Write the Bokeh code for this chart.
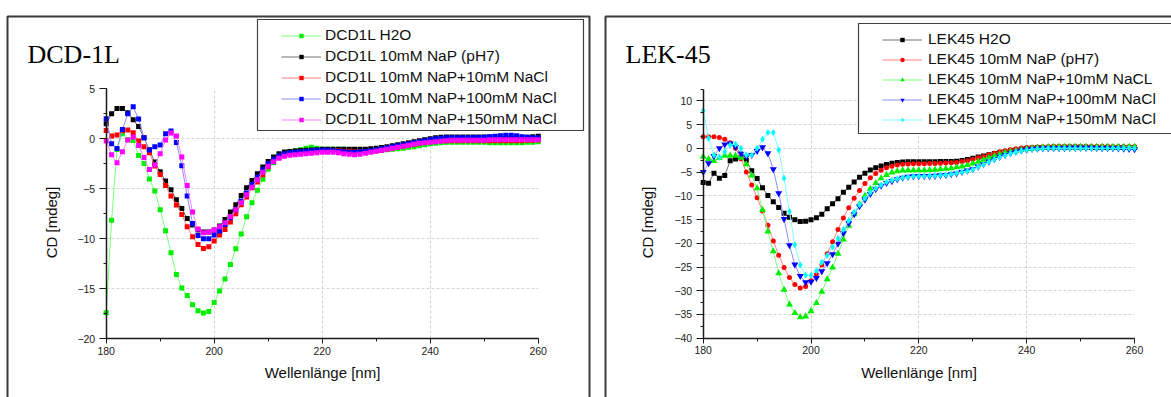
import math
from bokeh.plotting import figure
from bokeh.layouts import row
from bokeh.models import (Legend, LegendItem, BoxAnnotation, Label,
                          SingleIntervalTicker, FixedTicker, Range1d)
from bokeh.embed import file_html
from bokeh.resources import INLINE

wavelength = list(range(180, 261))
x_ticks = [180, 200, 220, 240, 260]

# ---------------- DCD-1L ----------------
dcd_labels = ["DCD1L H2O", "DCD1L 10mM NaP (pH7)", "DCD1L 10mM NaP+10mM NaCl",
              "DCD1L 10mM NaP+100mM NaCl", "DCD1L 10mM NaP+150mM NaCl"]
dcd_y_axis = [-20, 5]
dcd_h2o = [-17.4, -8.15, -1.07, 0.5, -0.1, -0.17, -1.67, -2.47, -4.03, -5.23,
           -7.1, -9.2, -11.4, -13.57, -14.93, -15.67, -16.6, -17.2, -17.43, -17.27,
           -16.37, -15.23, -14.03, -12.57, -11.0, -9.53, -7.8, -6.4, -5.15, -4.05,
           -3.05, -2.4, -1.85, -1.5, -1.3, -1.2, -1.1, -0.95, -0.85, -0.95,
           -1.05, -1.05, -1.05, -1.05, -1.05, -1.1, -1.1, -1.15, -1.15, -1.15,
           -1.15, -1.15, -1.1, -1.05, -1.0, -0.95, -0.85, -0.8, -0.7, -0.6,
           -0.5, -0.45, -0.4, -0.35, -0.35, -0.35, -0.35, -0.35, -0.35, -0.35,
           -0.35, -0.4, -0.4, -0.4, -0.4, -0.4, -0.4, -0.4, -0.35, -0.35,
           -0.3]
dcd_nap = [1.5, 2.5, 3.03, 3.03, 2.6, 1.9, 1.23, 0.1, -1.1, -2.33,
           -3.3, -4.23, -5.1, -6.1, -6.97, -7.97, -8.63, -9.13, -9.33, -9.33,
           -9.13, -8.73, -8.07, -7.33, -6.6, -5.67, -4.9, -4.17, -3.5, -2.83,
           -2.27, -1.83, -1.5, -1.33, -1.27, -1.22, -1.18, -1.15, -1.12, -1.1,
           -1.05, -1.05, -1.05, -1.05, -1.05, -1.05, -1.05, -1.05, -1.05, -1.0,
           -0.95, -0.88, -0.8, -0.7, -0.6, -0.5, -0.4, -0.3, -0.2, -0.1,
           0.0, 0.1, 0.15, 0.17, 0.17, 0.17, 0.17, 0.17, 0.17, 0.17,
           0.17, 0.17, 0.17, 0.17, 0.17, 0.17, 0.17, 0.15, 0.15, 0.2,
           0.25]
dcd_nacl10 = [0.83, 0.27, 0.37, 0.8, 0.87, 0.6, -0.23, -0.8, -1.4, -2.73,
              -3.57, -4.67, -5.73, -6.63, -7.57, -8.8, -9.8, -10.57, -10.97, -10.8,
              -10.23, -9.63, -9.07, -8.33, -7.5, -6.6, -5.83, -4.9, -4.33, -3.6,
              -2.8, -2.2, -1.85, -1.6, -1.5, -1.45, -1.4, -1.35, -1.3, -1.25,
              -1.2, -1.2, -1.2, -1.2, -1.25, -1.25, -1.3, -1.3, -1.3, -1.25,
              -1.2, -1.15, -1.05, -0.95, -0.85, -0.75, -0.65, -0.55, -0.45, -0.35,
              -0.3, -0.25, -0.2, -0.2, -0.2, -0.2, -0.2, -0.2, -0.2, -0.2,
              -0.2, -0.2, -0.2, -0.2, -0.2, -0.2, -0.2, -0.2, -0.15, -0.15,
              -0.1]
dcd_nacl100 = [2.0, -0.5, -0.97, 0.93, 2.5, 3.2, 1.97, 0.1, -1.13, -0.8,
               -0.63, 0.5, 0.77, -0.37, -2.7, -5.73, -8.47, -9.67, -10.0, -10.0,
               -9.63, -9.23, -8.57, -7.9, -7.1, -6.23, -5.43, -4.57, -3.83, -3.1,
               -2.5, -2.05, -1.7, -1.5, -1.4, -1.35, -1.3, -1.25, -1.2, -1.15,
               -1.15, -1.15, -1.2, -1.25, -1.3, -1.35, -1.35, -1.3, -1.25, -1.2,
               -1.1, -1.0, -0.9, -0.8, -0.7, -0.6, -0.5, -0.4, -0.3, -0.2,
               -0.1, 0.0, 0.05, 0.1, 0.1, 0.1, 0.1, 0.1, 0.12, 0.12,
               0.15, 0.2, 0.25, 0.3, 0.35, 0.35, 0.3, 0.2, 0.15, 0.1,
               0.1]
dcd_nacl150 = [-0.23, -1.6, -2.4, -1.3, -0.13, 0.17, -0.67, -1.87, -3.07, -2.63,
               -1.5, -0.13, 0.57, 0.27, -1.83, -4.67, -7.33, -9.03, -9.4, -9.33,
               -9.13, -8.8, -8.4, -7.8, -7.1, -6.4, -5.6, -4.85, -4.1, -3.35,
               -2.75, -2.3, -1.95, -1.75, -1.65, -1.6, -1.55, -1.5, -1.45, -1.4,
               -1.35, -1.35, -1.35, -1.4, -1.5, -1.55, -1.6, -1.55, -1.45, -1.35,
               -1.25, -1.15, -1.05, -0.95, -0.85, -0.75, -0.65, -0.55, -0.45, -0.4,
               -0.35, -0.3, -0.25, -0.2, -0.15, -0.15, -0.15, -0.15, -0.15, -0.15,
               -0.15, -0.1, -0.1, -0.1, -0.1, -0.1, -0.1, -0.1, -0.1, -0.1,
               -0.1]

# ---------------- LEK-45 ----------------
lek_labels = ["LEK45 H2O", "LEK45 10mM NaP (pH7)", "LEK45 10mM NaP+10mM NaCL",
              "LEK45 10mM NaP+100mM NaCl", "LEK45 10mM NaP+150mM NaCl"]
lek_y_axis = [-40, 12.5]
lek_h2o = [-7.2, -7.35, -5.25, -6.3, -5.74, -2.6, -2.24, -1.9, -2.52, -4.7,
           -6.37, -8.3, -9.94, -11.27, -12.46, -13.66, -14.5, -15.06, -15.4, -15.34,
           -15.06, -14.64, -13.87, -12.75, -11.7, -10.6, -9.24, -8.2, -7.1, -6.1,
           -5.25, -4.55, -4.1, -3.7, -3.4, -3.15, -3.0, -2.9, -2.85, -2.85,
           -2.85, -2.85, -2.85, -2.85, -2.8, -2.8, -2.75, -2.7, -2.55, -2.35,
           -2.1, -1.85, -1.6, -1.35, -1.1, -0.85, -0.65, -0.45, -0.3, -0.15,
           -0.05, 0.05, 0.1, 0.15, 0.2, 0.25, 0.25, 0.25, 0.25, 0.25,
           0.25, 0.25, 0.2, 0.2, 0.2, 0.2, 0.2, 0.2, 0.2, 0.2,
           0.2]
lek_nap = [2.45, 2.45, 2.45, 2.3, 1.9, 1.2, 0.0, -2.2, -5.0, -7.7,
           -10.4, -13.2, -16.2, -19.5, -22.5, -25.1, -27.2, -28.7, -29.4, -29.1,
           -27.9, -26.6, -24.6, -22.2, -19.7, -17.1, -14.7, -12.5, -10.5, -8.9,
           -7.4, -6.2, -5.3, -4.6, -4.1, -3.75, -3.5, -3.35, -3.3, -3.25,
           -3.25, -3.25, -3.2, -3.2, -3.15, -3.1, -3.05, -3.0, -2.8, -2.6,
           -2.3, -2.0, -1.7, -1.35, -1.05, -0.75, -0.5, -0.3, -0.1, 0.05,
           0.15, 0.25, 0.3, 0.35, 0.4, 0.45, 0.45, 0.45, 0.45, 0.45,
           0.45, 0.45, 0.45, 0.45, 0.45, 0.45, 0.4, 0.4, 0.4, 0.4,
           0.4]
lek_nacl10 = [-1.75, -2.24, -2.66, -1.96, -1.54, -1.54, -1.54, -1.96, -3.36, -5.74,
              -8.4, -12.95, -17.5, -21.7, -26.3, -29.8, -32.9, -34.7, -35.6, -35.4,
              -34.3, -32.6, -30.2, -27.6, -25.1, -22.2, -19.2, -16.3, -13.9, -11.8,
              -10.0, -8.5, -7.3, -6.3, -5.6, -5.1, -4.8, -4.65, -4.6, -4.6,
              -4.6, -4.6, -4.55, -4.5, -4.4, -4.3, -4.2, -4.0, -3.8, -3.5,
              -3.2, -2.8, -2.4, -2.0, -1.6, -1.25, -0.95, -0.7, -0.5, -0.3,
              -0.15, 0.0, 0.1, 0.2, 0.25, 0.3, 0.3, 0.3, 0.35, 0.35,
              0.35, 0.35, 0.35, 0.3, 0.3, 0.3, 0.3, 0.3, 0.3, 0.3,
              0.3]
lek_nacl100 = [-4.97, -3.15, -1.6, 0.0, 0.8, 1.0, 0.3, -1.1, -1.7, -1.4,
               -0.56, 0.2, -1.05, -4.4, -9.45, -14.9, -20.4, -24.5, -26.9, -28.2,
               -28.1, -27.3, -25.9, -24.2, -22.3, -20.1, -17.9, -15.8, -13.9, -12.2,
               -10.8, -9.6, -8.6, -7.9, -7.3, -6.9, -6.5, -6.2, -6.0, -5.9,
               -5.85, -5.85, -5.85, -5.8, -5.7, -5.6, -5.45, -5.3, -5.0, -4.7,
               -4.4, -3.85, -3.36, -2.8, -2.3, -1.8, -1.4, -1.05, -0.7, -0.45,
               -0.28, -0.15, -0.1, -0.05, 0.0, 0.0, 0.05, 0.05, 0.1, 0.1,
               0.1, 0.1, 0.1, 0.05, 0.05, 0.0, 0.0, -0.05, -0.1, -0.15,
               -0.2]
lek_nacl150 = [7.9, 2.1, -1.4, -1.9, -0.7, 0.7, 0.84, 0.0, -1.4, -1.4,
               0.0, 1.9, 3.36, 3.36, -0.35, -6.3, -13.3, -20.3, -24.6, -26.75,
               -26.75, -25.8, -24.0, -22.6, -20.8, -19.0, -17.1, -15.2, -13.4, -11.9,
               -10.5, -9.3, -8.4, -7.7, -7.1, -6.7, -6.4, -6.15, -6.0, -5.9,
               -5.85, -5.85, -5.8, -5.75, -5.65, -5.55, -5.4, -5.25, -5.0, -4.75,
               -4.45, -3.9, -3.4, -2.85, -2.35, -1.85, -1.45, -1.1, -0.75, -0.5,
               -0.3, -0.2, -0.1, -0.05, 0.0, 0.0, 0.0, 0.0, 0.0, 0.0,
               0.0, 0.0, 0.0, 0.0, 0.0, 0.0, 0.0, 0.0, 0.0, 0.0,
               0.0]

SANS = "Liberation Sans"
SERIF = "Liberation Serif"
H = 397


def make_panel(width, ax_left, ax_right, ax_top, ax_bottom, y_axis, y_grid, title,
               series, outer, legbox, leg_left, leg_top, leg_spacing, leg_standoff,
               ylab_x):
    """ax_* are the pixel edges of the data area inside this canvas."""
    x0, x1 = x_ticks[0], x_ticks[-1]
    y0, y1 = y_axis
    kx = (x1 - x0) / (ax_right - ax_left)
    ky = (y1 - y0) / (ax_bottom - ax_top)
    xr = Range1d(x0 - ax_left * kx, x1 + (width - ax_right) * kx)
    yr = Range1d(y0 - (H - ax_bottom) * ky, y1 + ax_top * ky)

    p = figure(width=width, height=H, x_range=xr, y_range=yr, title=None,
               output_backend="svg", toolbar_location=None, min_border=0,
               min_border_left=0, min_border_right=0, min_border_top=0, min_border_bottom=0)
    p.outline_line_color = None
    p.background_fill_color = "white"
    p.border_fill_color = "white"

    p.xaxis.ticker = SingleIntervalTicker(interval=20, num_minor_ticks=2)
    p.yaxis.ticker = SingleIntervalTicker(interval=5, num_minor_ticks=2)
    p.xaxis.bounds = (x0, x1)
    p.yaxis.bounds = (y0, y1)
    p.xaxis.fixed_location = y0
    p.yaxis.fixed_location = x0
    p.xgrid.ticker = FixedTicker(ticks=x_ticks[1:-1])
    p.ygrid.ticker = FixedTicker(ticks=y_grid)
    p.xgrid.cross_bounds = (y0, y1)
    p.ygrid.cross_bounds = (x0, x1)
    for g in (p.xgrid, p.ygrid):
        g.grid_line_color = "#d4d4d4"
        g.grid_line_dash = "3 2"
        g.grid_line_width = 1

    for ax in (p.xaxis, p.yaxis):
        ax.axis_line_color = "#1a1a1a"
        ax.axis_line_width = 1.5
        ax.major_tick_line_color = "#1a1a1a"
        ax.minor_tick_line_color = "#1a1a1a"
        ax.major_tick_in = 0
        ax.minor_tick_in = 0
        ax.major_label_text_font = SANS
        ax.major_label_text_font_size = "10.5px"
        ax.major_label_text_color = "#222222"
        ax.axis_label_text_font = SANS
        ax.axis_label_text_font_size = "15px"
        ax.axis_label_text_font_style = "normal"
        ax.axis_label_text_color = "#111111"
    p.xaxis.major_tick_out = 5
    p.xaxis.minor_tick_out = 3
    p.xaxis.major_label_standoff = 3
    p.xaxis.axis_label = "Wellenlänge [nm]"
    p.xaxis.axis_label_standoff = 6
    p.yaxis.major_tick_out = 7
    p.yaxis.minor_tick_out = 3
    p.yaxis.major_label_standoff = 4

    items = []
    for label, vals, marker, size, mcol, lcol in series:
        lr = p.line(wavelength, vals, line_color=lcol, line_width=1)
        sr = p.scatter(wavelength, vals, marker=marker, size=size,
                       fill_color=mcol, line_color=None)
        items.append(LegendItem(label=label, renderers=[lr, sr]))

    frame_box = BoxAnnotation(left=outer[0], right=outer[1], top=outer[2], bottom=outer[3],
                              left_units="canvas", right_units="canvas",
                              top_units="canvas", bottom_units="canvas",
                              fill_alpha=0, line_color="#3a3a3a", line_alpha=1, line_width=2)
    p.add_layout(frame_box)
    lbox = BoxAnnotation(left=legbox[0], right=legbox[1], top=legbox[2], bottom=legbox[3],
                         left_units="canvas", right_units="canvas",
                         top_units="canvas", bottom_units="canvas",
                         fill_color="white", fill_alpha=1, line_color="#404040",
                         line_alpha=1, line_width=1.2)
    p.add_layout(lbox)

    n = len(items)
    row_h = 18
    leg_h = n * row_h + (n - 1) * leg_spacing
    leg = Legend(items=items, location=(leg_left, H - leg_top - leg_h), padding=0, margin=0,
                 spacing=leg_spacing, glyph_width=40, glyph_height=11, label_height=row_h,
                 label_standoff=leg_standoff, border_line_alpha=0, background_fill_alpha=0,
                 label_text_font=SANS, label_text_font_size="15.5px", label_text_color="#111111")
    p.add_layout(leg)

    p.add_layout(Label(x=outer[0] + 20, y=54, x_units="canvas", y_units="canvas", text=title,
                       text_font=SERIF, text_font_size="26px", text_color="black",
                       text_baseline="alphabetic"))
    p.add_layout(Label(x=ylab_x, y=222, x_units="canvas", y_units="canvas", text="CD [mdeg]",
                       angle=math.pi / 2, text_font=SANS, text_font_size="15px",
                       text_color="#111111", text_align="center", text_baseline="middle"))
    return p


dcd_series = [
    (dcd_labels[0], dcd_h2o, "square", 5, "#00ee00", "#7dff7d"),
    (dcd_labels[1], dcd_nap, "square", 5, "#000000", "#707070"),
    (dcd_labels[2], dcd_nacl10, "square", 5, "#ff0000", "#ff8080"),
    (dcd_labels[3], dcd_nacl100, "square", 5, "#0000ff", "#8c8cff"),
    (dcd_labels[4], dcd_nacl150, "square", 5, "#ff00ff", "#ff80ff"),
]
lek_series = [
    (lek_labels[0], lek_h2o, "square", 5, "#000000", "#707070"),
    (lek_labels[1], lek_nap, "circle", 5, "#ff0000", "#ff8080"),
    (lek_labels[2], lek_nacl10, "triangle", 7, "#00ee00", "#7dff7d"),
    (lek_labels[3], lek_nacl100, "inverted_triangle", 7, "#0000ff", "#8c8cff"),
    (lek_labels[4], lek_nacl150, "diamond", 7, "#00ffff", "#80ffff"),
]

p1 = make_panel(597, 105.7, 537.7, 88.3, 338.3, dcd_y_axis, [-15, -10, -5, 0], "DCD-1L",
                dcd_series, (7, 589, 16, 460), (257, 583, 19, 130), 281, 26, 3, 4, 51)
p2 = make_panel(574, 105.7, 537.0, 88.5, 337.7, lek_y_axis, list(range(-35, 15, 5)), "LEK-45",
                lek_series, (8, 640, 16, 460), (261, 640, 23, 133), 285, 30, 2, 6, 50)

layout = row(p1, p2)
open("out.html", "w").write(file_html(layout, INLINE))
